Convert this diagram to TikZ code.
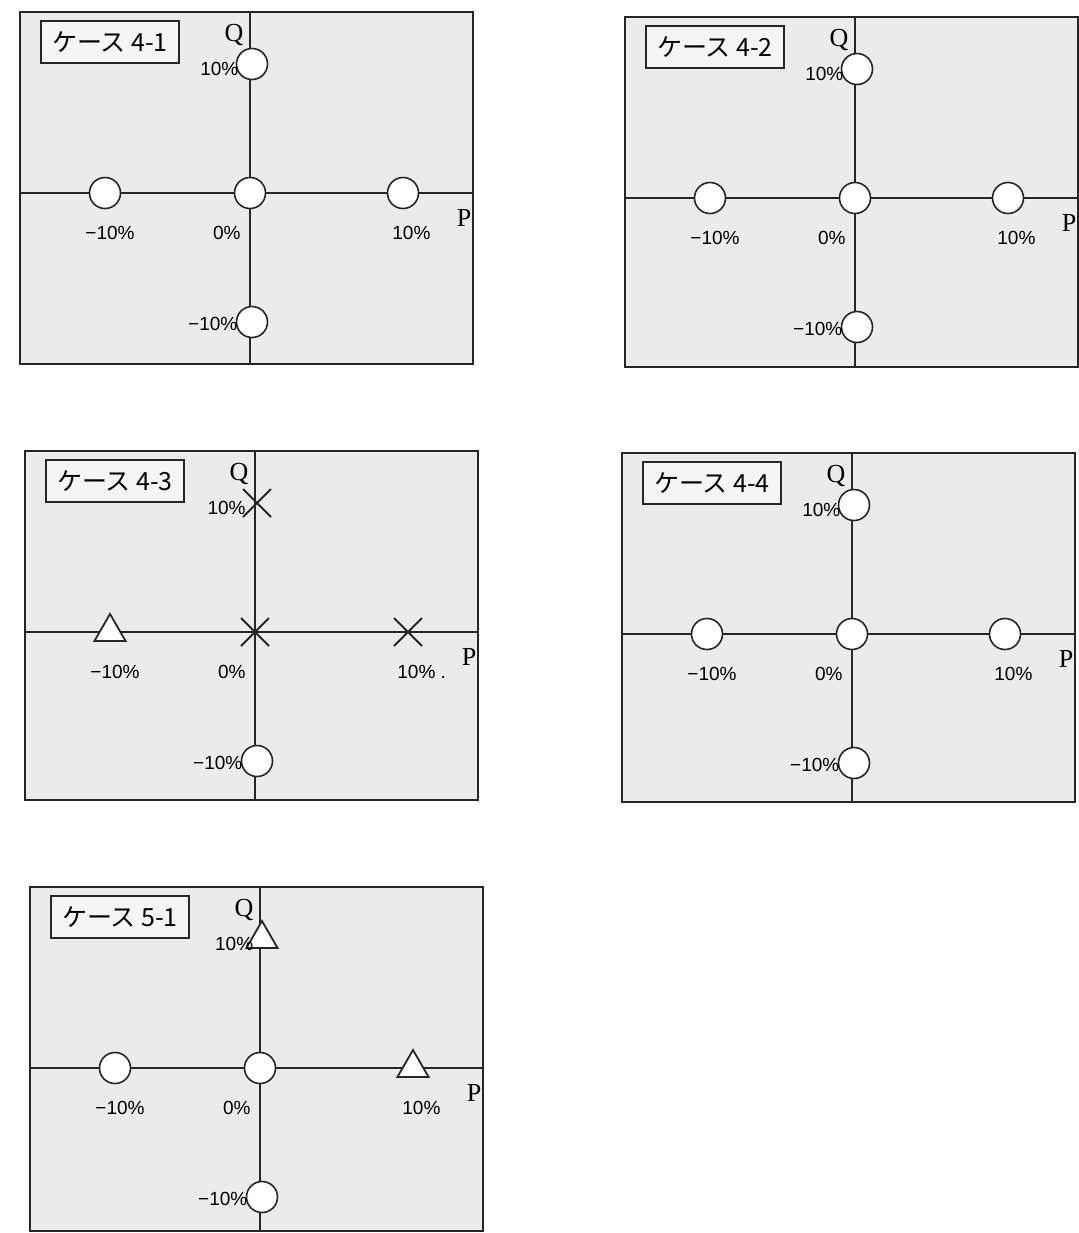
\documentclass[tikz,border=0pt]{standalone}
\usepackage{fontspec}
\setmainfont{Liberation Serif}
\newfontfamily\jpfont{Noto Sans CJK JP}
\newfontfamily\pctfont{Liberation Sans}
\usetikzlibrary{calc,shapes.geometric,shapes.misc,shadows}
\tikzset{
  panel/.style={draw=black!85,line width=1.2pt,fill=black!8},
  axis/.style={draw=black!85,line width=0.75pt},
  casebox/.style={draw=black!85,line width=0.9pt,fill=black!4,anchor=north west,
    minimum width=69pt,minimum height=21pt,inner sep=0pt,
    drop shadow={shadow xshift=0.6pt,shadow yshift=-0.6pt,fill=black!60},
    font=\jpfont\fontsize{12.5}{14}\selectfont},
  circ/.style={circle,draw=black!85,line width=0.8pt,fill=white,minimum size=15.5pt,inner sep=0pt},
  tri/.style={regular polygon,regular polygon sides=3,draw=black!85,line width=0.9pt,
    fill=white,minimum size=18pt,inner sep=0pt},
  crs/.style={cross out,draw=black!85,line width=1pt,minimum size=13pt,inner sep=0pt},
  pct/.style={font=\pctfont\fontsize{9.5}{11}\selectfont,inner sep=0pt},
  axlbl/.style={font=\fontsize{13}{15}\selectfont,inner sep=0pt},
}
\begin{document}
\begin{tikzpicture}[x=0.5pt,y=-0.5pt]
  \useasboundingbox[fill=white] (0,0) rectangle (1079,1233);
  % one panel per case: origin, frame bottom, name, markers top/left/origin/right/bottom
  \foreach \px/\py/\fb/\nm/\mt/\ml/\mo/\mr/\mb/\rl [count=\i] in {
      250/193/171/4-1/circ/circ/circ/circ/circ/10\%,
      855/198/169/4-2/circ/circ/circ/circ/circ/10\%,
      255/632/168/4-3/crs/tri/crs/crs/circ/10\%\ .,
      852/634/168/4-4/circ/circ/circ/circ/circ/10\%,
      260/1068/163/5-1/tri/circ/circ/tri/circ/10\%}{
    \coordinate (o\i) at (\px,\py);
    \coordinate (nw\i) at ($(o\i)+(-230,-181)$);
    \coordinate (se\i) at ($(o\i)+(223,\fb)$);
    \path[panel] (nw\i) rectangle (se\i);
    \draw[axis] (nw\i -| o\i) -- (se\i -| o\i);
    \draw[axis] (nw\i |- o\i) -- (se\i |- o\i);
    \node[casebox] (k\i) at ($(nw\i)+(20,8)$) {ケース \nm};
    % markers
    \node[\mo] (c\i) at (o\i) {};
    \node[\ml] (l\i) at ($(o\i)+(-145,0)$) {};
    \node[\mr] (r\i) at ($(o\i)+(153,0)$) {};
    \node[\mt] (t\i) at ($(o\i)+(2,-129)$) {};
    \node[\mb] (b\i) at ($(o\i)+(2,129)$) {};
    % labels
    \node[axlbl] (q\i) at ($(o\i)+(-16,-158)$) {Q};
    \node[axlbl] (p\i) at ($(o\i)+(214,25)$) {P};
    \node[pct] at ($(o\i)+(-140,40)$) {−10\%};
    \node[pct,anchor=east] at ($(o\i)+(-9,40)$) {0\%};
    \node[pct,anchor=west] at ($(o\i)+(142,40)$) {\rl};
    \node[pct,anchor=east] at ($(t\i.west)+(3,5)$) {10\%};
    \node[pct,anchor=east] at ($(b\i.west)+(2,2)$) {−10\%};
  }
\end{tikzpicture}
\end{document}
